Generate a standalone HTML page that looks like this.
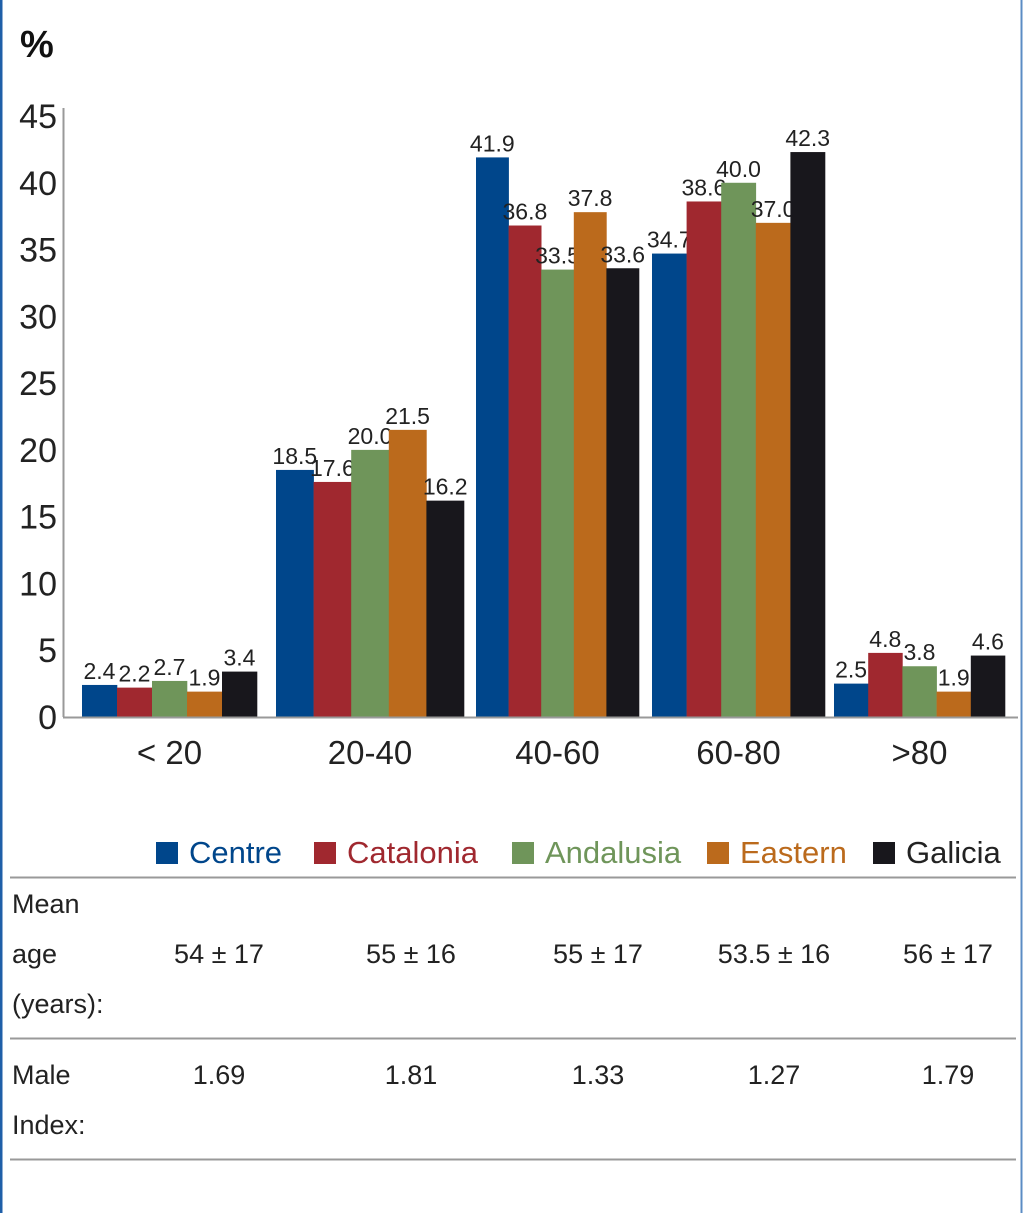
<!DOCTYPE html>
<html><head><meta charset="utf-8"><style>
html,body{margin:0;padding:0;background:#fff;}
svg{display:block;font-family:"Liberation Sans",sans-serif;}
</style></head><body>
<svg id="chart" width="1023" height="1213" viewBox="0 0 1023 1213" xmlns="http://www.w3.org/2000/svg">
<rect x="0" y="0" width="2.5" height="1213" fill="#1f5fa8"/>
<rect x="1020.5" y="0" width="2" height="1213" fill="#5b8cc4"/>
<text x="20" y="57" font-size="38" font-weight="bold" fill="#111">%</text>
<g id="ticks"></g>
<line x1="63.5" y1="108" x2="63.5" y2="717" stroke="#999" stroke-width="2"/>
<g id="bars"></g>
<line x1="63" y1="717.5" x2="1018" y2="717.5" stroke="#999" stroke-width="2"/>
<g id="legend"></g>
<g id="table" font-size="27" fill="#222"></g>
</svg>
<script>
const categories = ["< 20","20-40","40-60","60-80",">80"];
const seriesNames = ["Centre","Catalonia","Andalusia","Eastern","Galicia"];
const centre = [2.4,18.5,41.9,34.7,2.5];
const catalonia = [2.2,17.6,36.8,38.6,4.8];
const andalusia = [2.7,20.0,33.5,40.0,3.8];
const eastern = [1.9,21.5,37.8,37.0,1.9];
const galicia = [3.4,16.2,33.6,42.3,4.6];
const yTicks = [0,5,10,15,20,25,30,35,40,45];
const meanAge = ["54 ± 17","55  ± 16","55 ±  17","53.5 ± 16","56 ± 17"];
const maleIndex = ["1.69","1.81","1.33","1.27","1.79"];

const series = [centre,catalonia,andalusia,eastern,galicia];
const colors = ["#00468b","#a0282f","#6f955a","#bb6a1c","#18171c"];
const NS = "http://www.w3.org/2000/svg";
function mk(tag, attrs, parent, txt){const e=document.createElementNS(NS,tag);for(const k in attrs)e.setAttribute(k,attrs[k]);if(txt!==undefined)e.textContent=txt;parent.appendChild(e);return e;}
const y0=717, yTop=116, yMax=45;
function y(v){return y0-(v/yMax)*(y0-yTop);}
// layout (pixel positions of group bands, not data)
const layoutGroupLeft=[82,276,476,652,834];
const layoutGroupWidth=[175,188,163,173,171];
function barW(g){return layoutGroupWidth[g]/series.length;}
function xBar(g,s){return layoutGroupLeft[g]+s*barW(g);}

const ticksG=document.getElementById('ticks');
yTicks.forEach(t=>{
  const e=mk('text',{x:57,y:y(t)+12,'text-anchor':'end','font-size':34,fill:'#222'},ticksG,String(t));
  
  
});
const barsG=document.getElementById('bars');
categories.forEach((c,g)=>{
  series.forEach((arr,s)=>{
    const v=arr[g];
    const w=barW(g);
    const r=mk('rect',{x:xBar(g,s),y:y(v),width:w+0.3,height:y0-y(v),fill:colors[s]},barsG);
    
    
    const l=mk('text',{x:xBar(g,s)+w/2,y:y(v)-6,'text-anchor':'middle','font-size':23,fill:'#222'},barsG,v.toFixed(1));
    
    
  });
  const cl=mk('text',{x:layoutGroupLeft[g]+layoutGroupWidth[g]/2,y:764,'text-anchor':'middle','font-size':33,fill:'#222'},barsG,c);
  
  
});
const legG=document.getElementById('legend');
const legX=[156,314,512,707,873];
seriesNames.forEach((n,i)=>{
  const sw=mk('rect',{x:legX[i],y:842,width:22,height:22,fill:colors[i]},legG);
  
  
  const t=mk('text',{x:legX[i]+33,y:863,'font-size':31,fill:i==4?'#222':colors[i]},legG,n);
  
  
});
const tb=document.getElementById('table');
[877.5,1038.5,1159.5].forEach(yy=>{
  const l=mk('line',{x1:10,y1:yy,x2:1016,y2:yy,stroke:'#999','stroke-width':2},tb);
  
  
});
[["Mean",913],["age",963],["(years):",1013],["Male",1084],["Index:",1134]].forEach(([t,yy])=>{
  const e=mk('text',{x:12,y:yy},tb,t);
  
  
});
const colX=[219,411,598,774,948];
meanAge.forEach((t,i)=>{
  const e=mk('text',{x:colX[i],y:963,'text-anchor':'middle'},tb,t);
  
  
});
maleIndex.forEach((t,i)=>{
  const e=mk('text',{x:colX[i],y:1084,'text-anchor':'middle'},tb,t);
  
  
});
</script>
</body></html>
